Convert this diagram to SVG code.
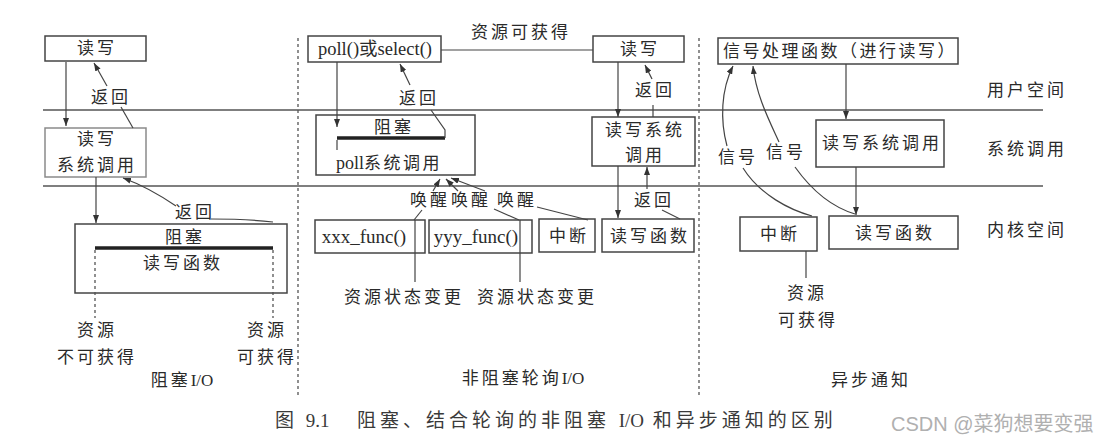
<svg xmlns="http://www.w3.org/2000/svg" width="1107" height="445" viewBox="0 0 1107 445">
<defs>
<marker id="ah" viewBox="0 0 8 6" refX="8" refY="3" markerWidth="8" markerHeight="6" markerUnits="userSpaceOnUse" orient="auto">
<path d="M0,0 L8,3 L0,6 z" fill="#333"/>
</marker>
</defs>
<style>
.t{font-family:"Liberation Serif","Noto Sans CJK SC",serif;font-size:17px;fill:#2a2a2a;text-anchor:middle;letter-spacing:3px}
.l{font-family:"Liberation Serif","Noto Sans CJK SC",serif;font-size:19px;fill:#2a2a2a;text-anchor:middle}
.n{letter-spacing:0}
.box{fill:none;stroke:#444;stroke-width:1.5}
.ln{fill:none;stroke:#444;stroke-width:1.2}
.arr{marker-end:url(#ah)}
.thick{stroke:#222;stroke-width:3.5}
.dash{stroke:#555;stroke-width:1.3;stroke-dasharray:3 3;fill:none}
.div{stroke:#555;stroke-width:1.5;fill:none}
.cap{font-family:"Liberation Serif","Noto Sans CJK SC",serif;font-size:19px;fill:#3a3a3a;letter-spacing:3.5px}
.wm{font-family:"Liberation Sans","Noto Sans CJK SC",sans-serif;font-size:20px;fill:#b0b0b0}
</style>
<rect width="1107" height="445" fill="#fff"/>

<g id="dividers">
<path class="div" d="M43,110 H1043 M43,186 H1043"/>
<path class="dash" d="M298,38 V397 M699,38 V397"/>
</g>

<g id="region-labels">
<text class="t" x="1027" y="96">用户空间</text>
<text class="t" x="1027" y="155">系统调用</text>
<text class="t" x="1027" y="236">内核空间</text>
<text class="t" x="182" y="386">阻塞<tspan class="n">I/O</tspan></text>
<text class="t" x="523" y="384">非阻塞轮询<tspan class="n">I/O</tspan></text>
<text class="t" x="871" y="386">异步通知</text>
</g>

<!-- Blocking I/O -->
<g id="left-rw">
<rect class="box" x="45" y="36" width="101" height="25"/>
<text class="t" x="97" y="54">读写</text>
</g>
<g id="left-syscall">
<rect class="box" x="45" y="128" width="101" height="49" style="stroke:#8a8a8a"/>
<text class="t" x="97" y="145">读写</text>
<text class="t" x="97" y="171">系统调用</text>
</g>
<g id="left-func">
<rect class="box" x="75" y="224" width="212" height="69"/>
<text class="t" x="185" y="243">阻塞</text>
<line class="thick" x1="95" y1="248" x2="273" y2="248"/>
<text class="t" x="183" y="269">读写函数</text>
</g>
<g id="left-res-no">
<text class="t" x="97" y="336">资源</text>
<text class="t" x="97" y="363">不可获得</text>
</g>
<g id="left-res-yes">
<text class="t" x="267" y="336">资源</text>
<text class="t" x="267" y="363">可获得</text>
</g>

<!-- Non-blocking polling I/O -->
<g id="mid-poll">
<rect class="box" x="308" y="36" width="133" height="26"/>
<text class="l" x="375" y="55" style="font-size:18.5px">poll()或select()</text>
</g>
<g id="mid-rw">
<rect class="box" x="593" y="36" width="91" height="26"/>
<text class="t" x="640" y="55">读写</text>
</g>
<g id="mid-pollsys">
<rect class="box" x="316" y="115" width="159" height="60"/>
<text class="t" x="394" y="133">阻塞</text>
<line class="thick" x1="337" y1="138" x2="445" y2="138"/>
<text class="t" x="389" y="169" style="letter-spacing:2.5px"><tspan class="n" style="font-size:18px">poll</tspan>系统调用</text>
</g>
<g id="mid-syscall">
<rect class="box" x="592" y="117" width="103" height="49"/>
<text class="t" x="645" y="136">读写系统</text>
<text class="t" x="645" y="161">调用</text>
</g>
<g id="mid-xxx">
<rect class="box" x="315" y="220" width="110" height="33"/>
<text class="l" x="364" y="243">xxx_func()</text>
</g>
<g id="mid-yyy">
<rect class="box" x="429" y="220" width="103" height="33"/>
<text class="l" x="476" y="243">yyy_func()</text>
</g>
<g id="mid-irq">
<rect class="box" x="539" y="219" width="56" height="33"/>
<text class="t" x="569" y="242">中断</text>
</g>
<g id="mid-func">
<rect class="box" x="602" y="219" width="92" height="33"/>
<text class="t" x="650" y="242">读写函数</text>
</g>
<g id="mid-state1"><text class="t" x="404" y="303">资源状态变更</text></g>
<g id="mid-state2"><text class="t" x="537" y="303">资源状态变更</text></g>

<!-- Async notification -->
<g id="right-handler">
<rect class="box" x="718" y="38" width="240" height="26"/>
<text class="t" x="840" y="57" style="letter-spacing:2.5px">信号处理函数（进行读写）</text>
</g>
<g id="right-syscall">
<rect class="box" x="816" y="120" width="128" height="47"/>
<text class="t" x="882" y="149">读写系统调用</text>
</g>
<g id="right-func">
<rect class="box" x="829" y="216" width="129" height="33"/>
<text class="t" x="895" y="239">读写函数</text>
</g>
<g id="right-irq">
<rect class="box" x="740" y="217" width="77" height="34"/>
<text class="t" x="780" y="240">中断</text>
</g>
<g id="right-res">
<text class="t" x="807" y="299">资源</text>
<text class="t" x="808" y="326">可获得</text>
</g>

<g id="connectors">
<!-- left -->
<path class="ln arr" d="M66,62 V126"/>
<path class="ln" d="M133,128 L121,107"/>
<path class="ln arr" d="M107,86 L94,63"/>
<text class="t" x="111" y="103">返回</text>
<path class="ln arr" d="M96,177 V223"/>
<path class="ln" d="M273,222 C255,220 230,219 211,219"/>
<path class="ln arr" d="M176,206 Q148,187 123,178"/>
<text class="t" x="195" y="218">返回</text>
<path class="dash" d="M95,250 V318 M273,250 V318"/>
<!-- middle -->
<path class="ln" d="M441,50 H593"/>
<text class="t" x="521" y="38">资源可获得</text>
<path class="ln arr" d="M337,62 V127"/>
<path class="ln" d="M337,140 V150"/>
<path class="ln" d="M445,138 V130 L431,110"/>
<path class="ln arr" d="M410,85 L400,64"/>
<text class="t" x="419" y="104">返回</text>
<path class="ln" d="M414,220 L422,210"/>
<path class="ln arr" d="M433,191 L440,179"/>
<path class="ln" d="M519,220 L494,209"/>
<path class="ln arr" d="M458,191 L446,179"/>
<path class="ln" d="M588,220 L537,207"/>
<path class="ln arr" d="M485,191 L451,178"/>
<text class="t" x="430" y="206">唤醒</text>
<text class="t" x="471" y="206">唤醒</text>
<text class="t" x="517" y="206">唤醒</text>
<path class="ln" d="M415,220 V282 M520,220 V282"/>
<path class="ln arr" d="M618,62 V117"/>
<path class="ln arr" d="M618,166 V218"/>
<path class="ln" d="M653,117 V105"/>
<path class="ln arr" d="M652,79 L645,65"/>
<text class="t" x="655" y="96">返回</text>
<path class="ln arr" d="M647,189 V167"/>
<path class="ln" d="M662,210 L680,219"/>
<text class="t" x="654" y="206">返回</text>
<!-- right -->
<path class="ln arr" d="M846,64 V119"/>
<path class="ln arr" d="M856,167 V215"/>
<path class="ln" d="M806,251 V278"/>
<path class="ln arr" d="M727,146 C720,120 721,90 733,66"/>
<path class="ln" d="M743,168 C760,195 790,210 812,216"/>
<path class="ln arr" d="M779,142 C769,120 756,95 753,66"/>
<path class="ln" d="M795,167 C815,195 835,208 855,214"/>
<text class="t" x="738" y="163">信号</text>
<text class="t" x="786" y="158">信号</text>
</g>

<g id="caption">
<text class="cap" x="275" y="427">图 <tspan class="n">9.1</tspan></text>
<text class="cap" x="357" y="427" style="letter-spacing:4px">阻塞、结合轮询的非阻塞 <tspan class="n">I/O</tspan> 和异步通知的区别</text>
<text class="wm" x="891" y="431">CSDN @菜狗想要变强</text>
</g>
</svg>
